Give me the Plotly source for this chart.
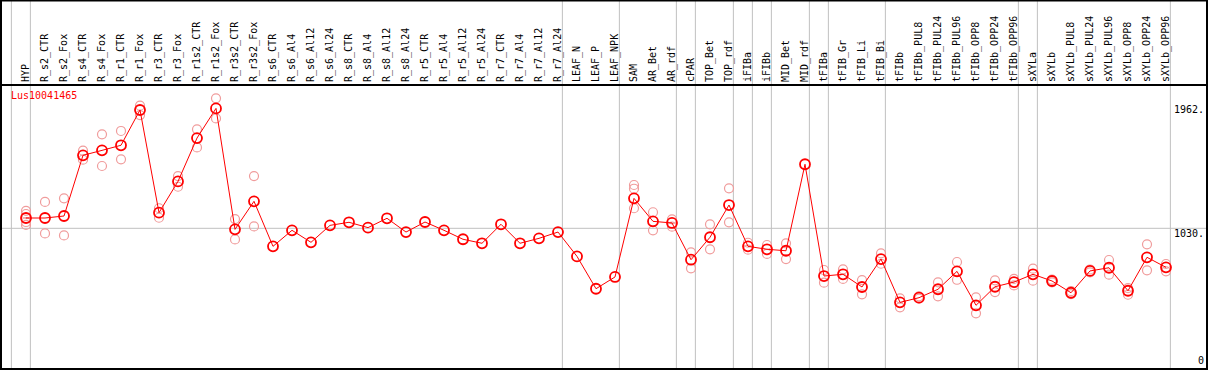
import plotly.graph_objects as go

cats = ["HYP", "R_s2_CTR", "R_s2_Fox", "R_s4_CTR", "R_s4_Fox", "R_r1_CTR", "R_r1_Fox",
        "R_r3_CTR", "R_r3_Fox", "R_r1s2_CTR", "R_r1s2_Fox", "R_r3s2_CTR", "R_r3s2_Fox",
        "R_s6_CTR", "R_s6_Al4", "R_s6_Al12", "R_s6_Al24", "R_s8_CTR", "R_s8_Al4", "R_s8_Al12",
        "R_s8_Al24", "R_r5_CTR", "R_r5_Al4", "R_r5_Al12", "R_r5_Al24", "R_r7_CTR", "R_r7_Al4",
        "R_r7_Al12", "R_r7_Al24", "LEAF_N", "LEAF_P", "LEAF_NPK", "SAM", "AR_Bet", "AR_rdf",
        "cPAR", "TOP_Bet", "TOP_rdf", "iFIBa", "iFIBb", "MID_Bet", "MID_rdf", "tFIBa",
        "tFIB_Gr", "tFIB_Li", "tFIB_Bi", "tFIBb", "tFIBb_PUL8", "tFIBb_PUL24", "tFIBb_PUL96",
        "tFIBb_OPP8", "tFIBb_OPP24", "tFIBb_OPP96", "sXYLa", "sXYLb", "sXYLb_PUL8",
        "sXYLb_PUL24", "sXYLb_PUL96", "sXYLb_OPP8", "sXYLb_OPP24", "sXYLb_OPP96"]

means = [1107, 1107, 1122, 1576, 1613, 1651, 1915, 1147, 1381, 1705, 1927, 1022, 1232,
         895, 1015, 925, 1052, 1075, 1035, 1105, 1002, 1077, 1015, 948, 918, 1060, 918,
         955, 1002, 820, 578, 666, 1254, 1082, 1070, 795, 963, 1204, 895, 873, 862, 1509,
         673, 686, 591, 800, 476, 511, 574, 708, 454, 593, 628, 686, 636, 548, 711, 735,
         563, 813, 738]

N = None
rep_hi = [1161, 1227, 1254, 1611, 1733, 1758, 1947, 1180, 1421, 1770, 2002, 1099, 1421,
          N, N, N, N, N, N, N, N, N, N, N, N, N, N, N, N, N, N, N,
          1354, 1150, 1097, 850, 1060, 1329, 922, 905, 918, N,
          718, 723, 643, 843, 506, 521, 626, 778, 514, 641, 651, 728, 646, 560, 722, 793,
          583, 910, 763]

rep_lo = [1055, 992, 977, 1543, 1496, 1546, 1877, 1109, 1341, 1635, 1852, 947, 1044,
          N, N, N, N, N, N, N, N, N, N, N, N, N, N, N, N, N, N, N,
          1180, 1015, 1042, 731, 873, 1075, 870, 838, 800, N,
          623, 651, 536, 765, 439, 503, 521, 645, 394, 553, 603, 638, 626, 538, 700, 683,
          533, 716, 708]

extra_cats = ["HYP", "HYP", "SAM"]
extra_vals = [1137, 1077, 1326]

# categories after which a group separator is drawn ("" = before the first)
sep_after = ["", "HYP", "R_r7_Al24", "LEAF_NPK", "AR_rdf", "cPAR", "TOP_rdf", "iFIBa",
             "iFIBb", "MID_rdf", "tFIBa", "tFIB_Bi", "tFIBb_OPP96", "sXYLa", "sXYLb_OPP96"]

ylabels = [1962, 1030, 0]
title = "Lus10041465"

idx = list(range(len(cats)))
pos = {c: i for i, c in enumerate(cats)}
FONT = "DejaVu Sans Mono"
REP = "#f09c9c"

fig = go.Figure()

rep_x, rep_y = [], []
for i in idx:
    for arr in (rep_hi, rep_lo):
        if arr[i] is not None:
            rep_x.append(i)
            rep_y.append(arr[i])
for c, v in zip(extra_cats, extra_vals):
    rep_x.append(pos[c])
    rep_y.append(v)

fig.add_trace(go.Scatter(x=rep_x, y=rep_y, mode="markers",
                         marker=dict(symbol="circle-open", size=9, color=REP,
                                     line=dict(width=1.2, color=REP)),
                         showlegend=False, hoverinfo="y"))
fig.add_trace(go.Scatter(x=idx, y=means, mode="lines+markers",
                         line=dict(color="#ff0000", width=1),
                         marker=dict(symbol="circle-open", size=10, color="#ff0000",
                                     line=dict(width=1.8, color="#ff0000")),
                         showlegend=False, hoverinfo="y"))

TOPP = 1 + 85 / 284
shapes = []
for c in sep_after:
    xi = (pos[c] if c else -1) + 0.23
    shapes.append(dict(type="line", xref="x", yref="paper", x0=xi, x1=xi, y0=0, y1=TOPP,
                       line=dict(color="#c0c0c0", width=1), layer="below"))
shapes.append(dict(type="line", xref="paper", yref="y", x0=0, x1=1, y0=1030, y1=1030,
                   line=dict(color="#c0c0c0", width=1), layer="below"))
# frame and header separator
shapes.append(dict(type="rect", xref="paper", yref="paper", x0=0, x1=1, y0=0, y1=TOPP - 0.002,
                   line=dict(color="black", width=2)))
shapes.append(dict(type="line", xref="paper", yref="paper", x0=0, x1=1, y0=1, y1=1,
                   line=dict(color="black", width=2)))

ann = []
for v in ylabels:
    ann.append(dict(xref="paper", yref="y", x=1, y=v, text=(f"{v}." if v else "0"),
                    showarrow=False, xanchor="right", yanchor=("top" if v else "bottom"),
                    xshift=-1, yshift=(2 if v else -2),
                    font=dict(family=FONT, size=10, color="black")))
ann.append(dict(xref="paper", yref="paper", x=8 / 1206, y=1 - 11 / 284, text=title,
                showarrow=False, xanchor="left", yanchor="middle",
                font=dict(family=FONT, size=10, color="#ff0000")))

fig.update_layout(
    width=1209, height=370,
    margin=dict(l=1, r=2, t=85, b=1, autoexpand=False),
    paper_bgcolor="white", plot_bgcolor="white",
    shapes=shapes, annotations=ann,
    xaxis=dict(range=[-1.3158, 62.158], side="top", tickmode="array", tickvals=idx,
               ticktext=cats, tickangle=-90, showgrid=False, zeroline=False, ticks="",
               showline=False, automargin=False, ticklabelstandoff=2,
               tickfont=dict(family=FONT, size=10, color="black")),
    yaxis=dict(range=[-22.4, 2101.9], showgrid=False, zeroline=False, showticklabels=False,
               ticks="", showline=False, automargin=False),
)

fig.write_html("out.html", config={"displayModeBar": False},
               post_script="document.body.style.margin='0';document.body.style.overflow='hidden';")
